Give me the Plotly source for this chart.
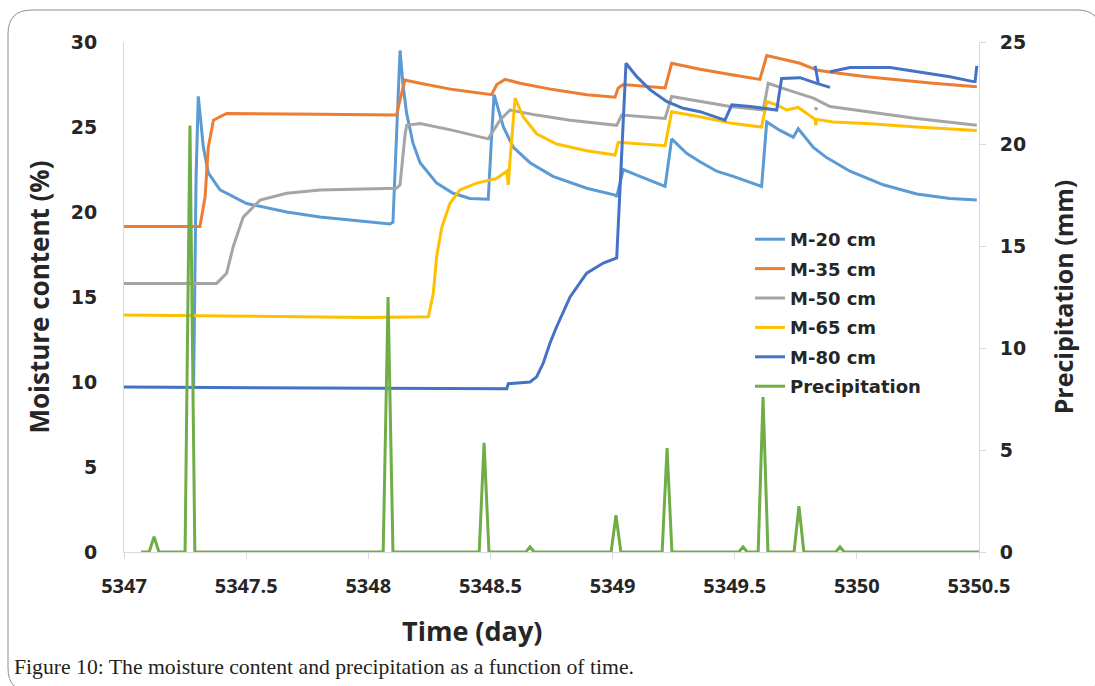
import plotly.graph_objects as go

# ---- moisture content (%) at each depth: time (day) / value pairs ----
t_m20 = [5347.285, 5347.295, 5347.304, 5347.313, 5347.325, 5347.345, 5347.393, 5347.502,
         5347.666, 5347.802, 5347.937, 5348.089, 5348.101, 5348.118, 5348.130, 5348.142,
         5348.157, 5348.183, 5348.212, 5348.280, 5348.347, 5348.416, 5348.491, 5348.505,
         5348.515, 5348.553, 5348.594, 5348.662, 5348.756, 5348.894, 5349.010, 5349.017,
         5349.044, 5349.112, 5349.215, 5349.242, 5349.303, 5349.358, 5349.426, 5349.494,
         5349.610, 5349.631, 5349.685, 5349.740, 5349.760, 5349.822, 5349.876, 5349.972,
         5350.108, 5350.245, 5350.381, 5350.491]
m20 = [9.7, 22.0, 26.8, 25.6, 23.8, 22.3, 21.3, 20.5,
       20.0, 19.7, 19.5, 19.3, 19.4, 26.0, 29.5, 27.5,
       25.8, 24.05, 22.9, 21.7, 21.1, 20.8, 20.75, 24.5,
       26.9, 25.0, 23.8, 22.9, 22.1, 21.4, 21.0, 20.9,
       22.5, 22.1, 21.5, 24.3, 23.45, 22.96, 22.4, 22.1,
       21.5, 25.3, 24.8, 24.4, 24.9, 23.8, 23.2, 22.4,
       21.6, 21.06, 20.8, 20.7]

t_m35 = [5347.000, 5347.311, 5347.332, 5347.345, 5347.366, 5347.420, 5347.800, 5348.116,
         5348.125, 5348.150, 5348.212, 5348.347, 5348.505, 5348.526, 5348.560, 5348.621,
         5348.756, 5348.894, 5349.010, 5349.023, 5349.044, 5349.215, 5349.242, 5349.358,
         5349.494, 5349.603, 5349.631, 5349.767, 5349.836, 5349.902, 5350.040, 5350.177,
         5350.312, 5350.491]
m35 = [19.15, 19.15, 20.9, 23.8, 25.4, 25.8, 25.75, 25.7,
       26.3, 27.76, 27.57, 27.2, 26.9, 27.5, 27.8, 27.57,
       27.2, 26.9, 26.75, 27.3, 27.5, 27.3, 28.75, 28.4,
       28.06, 27.8, 29.2, 28.75, 28.35, 28.2, 27.96, 27.76,
       27.57, 27.37]

t_m50 = [5347.000, 5347.379, 5347.420, 5347.447, 5347.488, 5347.557, 5347.666, 5347.802,
         5348.116, 5348.130, 5348.150, 5348.157, 5348.212, 5348.347, 5348.491, 5348.539,
         5348.580, 5348.689, 5348.826, 5349.010, 5349.017, 5349.037, 5349.215, 5349.242,
         5349.358, 5349.481, 5349.617, 5349.637, 5349.713, 5349.822, 5349.890, 5350.040,
         5350.245, 5350.491, None, 5349.826, 5349.840]
m50 = [15.8, 15.8, 16.4, 17.96, 19.7, 20.7, 21.1, 21.3,
       21.4, 21.6, 24.5, 25.1, 25.2, 24.8, 24.3, 25.4,
       26.0, 25.7, 25.4, 25.1, 25.1, 25.7, 25.5, 26.8,
       26.5, 26.2, 26.0, 27.57, 27.2, 26.7, 26.2, 25.9,
       25.5, 25.1, None, 26.1, 26.05]

t_m65 = [5347.000, 5347.500, 5348.000, 5348.246, 5348.266, 5348.280, 5348.301, 5348.334,
         5348.375, 5348.444, 5348.526, 5348.567, 5348.573, 5348.580, 5348.601, 5348.634,
         5348.689, 5348.771, 5348.894, 5349.010, 5349.023, 5349.215, 5349.242, 5349.358,
         5349.494, 5349.610, 5349.631, 5349.672, 5349.713, 5349.760, 5349.829, 5349.832,
         5349.836, 5349.902, 5350.040, 5350.245, 5350.491]
m65 = [13.94, 13.85, 13.8, 13.84, 15.2, 17.4, 19.1, 20.5,
       21.3, 21.7, 21.98, 22.4, 21.6, 23.0, 26.7, 25.6,
       24.6, 24.0, 23.6, 23.35, 24.1, 23.9, 25.9, 25.6,
       25.2, 25.0, 26.5, 26.3, 26.0, 26.15, 25.45, 25.1,
       25.45, 25.3, 25.2, 25.0, 24.8]

t_m80 = [5347.000, 5348.567, 5348.573, 5348.662, 5348.689, 5348.716, 5348.744, 5348.771,
         5348.826, 5348.894, 5348.962, 5349.017, 5349.055, 5349.099, 5349.153, 5349.221,
         5349.289, 5349.358, 5349.460, 5349.488, 5349.563, 5349.631, 5349.672, 5349.692,
         5349.767, 5349.836, 5349.890,
         None, 5349.829, 5349.842,
         None, 5349.890, 5349.972, 5350.136, 5350.245, 5350.381, 5350.477, 5350.484, 5350.491]
m80 = [9.7, 9.6, 9.9, 10.0, 10.3, 11.1, 12.3, 13.25,
       15.0, 16.4, 17.0, 17.3, 28.75, 27.96, 27.2, 26.5,
       26.1, 25.9, 25.4, 26.3, 26.2, 26.1, 26.0, 27.86,
       27.9, 27.57, 27.33,
       None, 28.6, 27.6,
       None, 28.25, 28.5, 28.5, 28.25, 27.96, 27.67, 27.67, 28.6]

# ---- precipitation (mm) ----
t_rain = [5347.070, 5347.103, 5347.123, 5347.143, 5347.250, 5347.270, 5347.290,
          5348.061, 5348.081, 5348.101, 5348.454, 5348.474, 5348.494,
          5348.645, 5348.662, 5348.679, 5348.994, 5349.014, 5349.034,
          5349.203, 5349.223, 5349.243, 5349.517, 5349.534, 5349.551,
          5349.596, 5349.616, 5349.636, 5349.743, 5349.763, 5349.783,
          5349.914, 5349.931, 5349.948, 5350.500]
rain = [0, 0, 0.75, 0, 0, 20.9, 0,
        0, 12.5, 0, 0, 5.35, 0,
        0, 0.25, 0, 0, 1.8, 0,
        0, 5.1, 0, 0, 0.25, 0,
        0, 7.6, 0, 0, 2.25, 0,
        0, 0.25, 0, 0]

x_ticks = [5347, 5347.5, 5348, 5348.5, 5349, 5349.5, 5350, 5350.5]

series = [
    ("M-20 cm", t_m20, m20, "#5b9bd5"),
    ("M-35 cm", t_m35, m35, "#ed7d31"),
    ("M-50 cm", t_m50, m50, "#a5a5a5"),
    ("M-65 cm", t_m65, m65, "#ffc000"),
    ("M-80 cm", t_m80, m80, "#4472c4"),
]

W, H = 1095, 686
ML, MR, MT, MB = 124, 116, 42, 134
PW, PH = W - ML - MR, H - MT - MB

def px(x):
    return (x - ML) / PW

def py(y):
    return (H - MB - y) / PH

fig = go.Figure()
for name, t, v, col in series:
    fig.add_trace(go.Scatter(x=t, y=v, mode="lines", name=name, legendgroup=name,
                             line=dict(color=col, width=3), connectgaps=False))
fig.add_trace(go.Scatter(x=t_rain, y=rain, mode="lines", name="Precipitation",
                         legendgroup="Precipitation", yaxis="y2",
                         line=dict(color="#70ad47", width=3)))

ink = "#262626"
x_tick_font = dict(family="Open Sans", size=20, color=ink, weight="bold")
y_tick_font = dict(family="DejaVu Sans", size=19, color=ink, weight="bold")
title_font = dict(family="Open Sans", size=26, color=ink, weight="bold")
axis_grey = "#d9d9d9"

fig.update_layout(
    width=W, height=H,
    margin=dict(l=ML, r=MR, t=MT, b=MB),
    paper_bgcolor="white", plot_bgcolor="white",
    xaxis=dict(range=[5347, 5350.5], tickvals=x_ticks, ticktext=[f"{v:g}" for v in x_ticks],
               showgrid=False, zeroline=False, showline=True, linecolor=axis_grey, linewidth=1,
               ticks="outside", ticklen=6, tickcolor=axis_grey, tickfont=x_tick_font,
               ticklabelstandoff=10),
    yaxis=dict(range=[0, 30], dtick=5, showgrid=False, zeroline=False, showline=True,
               linecolor=axis_grey, linewidth=1, ticks="", tickfont=y_tick_font,
               ticklabelstandoff=22,
               title=dict(text="Moisture content (%)", font=title_font, standoff=13)),
    yaxis2=dict(range=[0, 25], dtick=5, overlaying="y", side="right", showgrid=False,
                zeroline=False, showline=True, linecolor=axis_grey, linewidth=1,
                ticks="outside", ticklen=6, tickcolor=axis_grey, tickfont=y_tick_font,
                ticklabelstandoff=10,
                title=dict(text="Precipitation (mm)", font=dict(title_font, size=25),
                           standoff=30)),
    legend=dict(x=px(750), y=py(221), xanchor="left", yanchor="top",
                bgcolor="rgba(0,0,0,0)", tracegroupgap=3,
                font=dict(family="DejaVu Sans", size=18, color=ink, weight="bold")),
    showlegend=True,
)

# x-axis title, set left of the plot centre
fig.add_annotation(x=px(472), y=py(630), xref="paper", yref="paper", xanchor="center",
                   yanchor="middle", showarrow=False, text="Time (day)",
                   font=dict(title_font, size=27))

# caption under the chart
fig.add_annotation(x=px(12), y=py(667), xref="paper", yref="paper", xanchor="left",
                   yanchor="middle", showarrow=False,
                   text="Figure 10: The moisture content and precipitation as a function of time.",
                   font=dict(family="Liberation Serif", size=21.7, color="#231f20"))

# rounded frame around the figure
l, t, r, b, rad = 8, 10, 1101, 692, 24
pts = [("M", l + rad, t), ("L", r - rad, t), ("Q", r, t, r, t + rad), ("L", r, b - rad),
       ("Q", r, b, r - rad, b), ("L", l + rad, b), ("Q", l, b, l, b - rad),
       ("L", l, t + rad), ("Q", l, t, l + rad, t)]
path = ""
for p in pts:
    cmd, coords = p[0], p[1:]
    pairs = [f"{px(coords[i]):.5f},{py(coords[i + 1]):.5f}" for i in range(0, len(coords), 2)]
    path += cmd + " ".join(pairs) + " "
fig.add_shape(type="path", path=path + "Z", xref="paper", yref="paper",
              line=dict(color="#8c8c8c", width=1))

fig.write_html("out.html")
